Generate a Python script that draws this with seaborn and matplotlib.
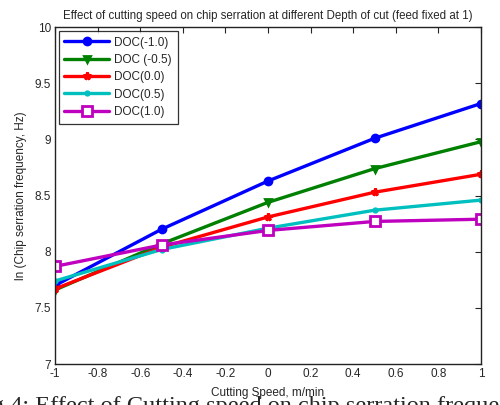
import matplotlib
matplotlib.use('Agg')
import matplotlib.pyplot as plt
import numpy as np
import pandas as pd
import seaborn as sns

# cutting speed (coded) and ln(chip serration frequency) per depth of cut
speed = [-1.0, -0.5, 0.0, 0.5, 1.0]
doc_m10 = [7.70, 8.20, 8.63, 9.01, 9.32]
doc_m05 = [7.66, 8.07, 8.44, 8.74, 8.98]
doc_p00 = [7.67, 8.04, 8.31, 8.53, 8.69]
doc_p05 = [7.74, 8.02, 8.21, 8.37, 8.46]
doc_p10 = [7.87, 8.06, 8.19, 8.27, 8.29]
labels = ['DOC(-1.0)', 'DOC (-0.5)', 'DOC(0.0)', 'DOC(0.5)', 'DOC(1.0)']

series = [doc_m10, doc_m05, doc_p00, doc_p05, doc_p10]
df = pd.DataFrame({
    'speed': speed * len(series),
    'lnf': sum(series, []),
    'doc': [lab for lab in labels for _ in speed],
})

colors = ['#0000ff', '#008000', '#ff0000', '#00bfbf', '#bf00bf']
markers = ['o', 'v', '*', '.', 's']
msizes = [5, 5, 5.5, 5, 7]
faces = ['#0000ff', '#008000', '#ff0000', '#00bfbf', 'white']

sns.set_style('white')
plt.rcParams['font.family'] = ['Liberation Sans', 'DejaVu Sans']
plt.rcParams['xtick.direction'] = 'in'
plt.rcParams['ytick.direction'] = 'in'

fig = plt.figure(figsize=(5.0, 4.05), dpi=100)
ax = fig.add_axes([0.11, 0.101, 0.852, 0.832])

for lab, c, m, ms, fc in zip(labels, colors, markers, msizes, faces):
    sub = df[df['doc'] == lab]
    sns.lineplot(data=sub, x='speed', y='lnf', ax=ax, color=c, marker=m,
                 markersize=ms, markeredgecolor=c, markerfacecolor=fc,
                 markeredgewidth=2.0, linewidth=2.4, label=lab,
                 estimator=None, sort=False)

ax.set_xlim(-1, 1)
ax.set_ylim(7, 10)
ax.set_xticks(np.round(np.arange(-1, 1.01, 0.2), 1))
ax.set_xticklabels(['-1', '-0.8', '-0.6', '-0.4', '-0.2', '0', '0.2', '0.4', '0.6', '0.8', '1'])
ax.set_yticks([7, 7.5, 8, 8.5, 9, 9.5, 10])
ax.set_yticklabels(['7', '7.5', '8', '8.5', '9', '9.5', '10'])
ax.tick_params(labelsize=8.5, length=4, width=0.8, top=True, right=True, pad=3)
for s in ax.spines.values():
    s.set_linewidth(1.0)
    s.set_color('#222222')

ax.set_title('Effect of cutting speed on chip serration at different Depth of cut (feed fixed at 1)',
             fontsize=8.3, pad=6)
ax.set_xlabel('Cutting Speed, m/min', fontsize=8.5, labelpad=5)
ax.set_ylabel('ln (Chip serration frequency, Hz)', fontsize=8.5, labelpad=5)

leg = ax.legend(loc='upper left', fontsize=8.5, frameon=True, fancybox=False,
                handlelength=3.8, borderpad=0.5, labelspacing=0.45,
                handletextpad=0.4, borderaxespad=0.3)
leg.get_frame().set_edgecolor('black')
leg.get_frame().set_linewidth(0.9)

fig.text(-0.015, 0.022, 'g 4: Effect of Cutting speed on chip serration frequency',
         family=['Liberation Serif', 'DejaVu Serif'], fontsize=17.5, ha='left', va='top')

fig.savefig('out.png', dpi=100)
